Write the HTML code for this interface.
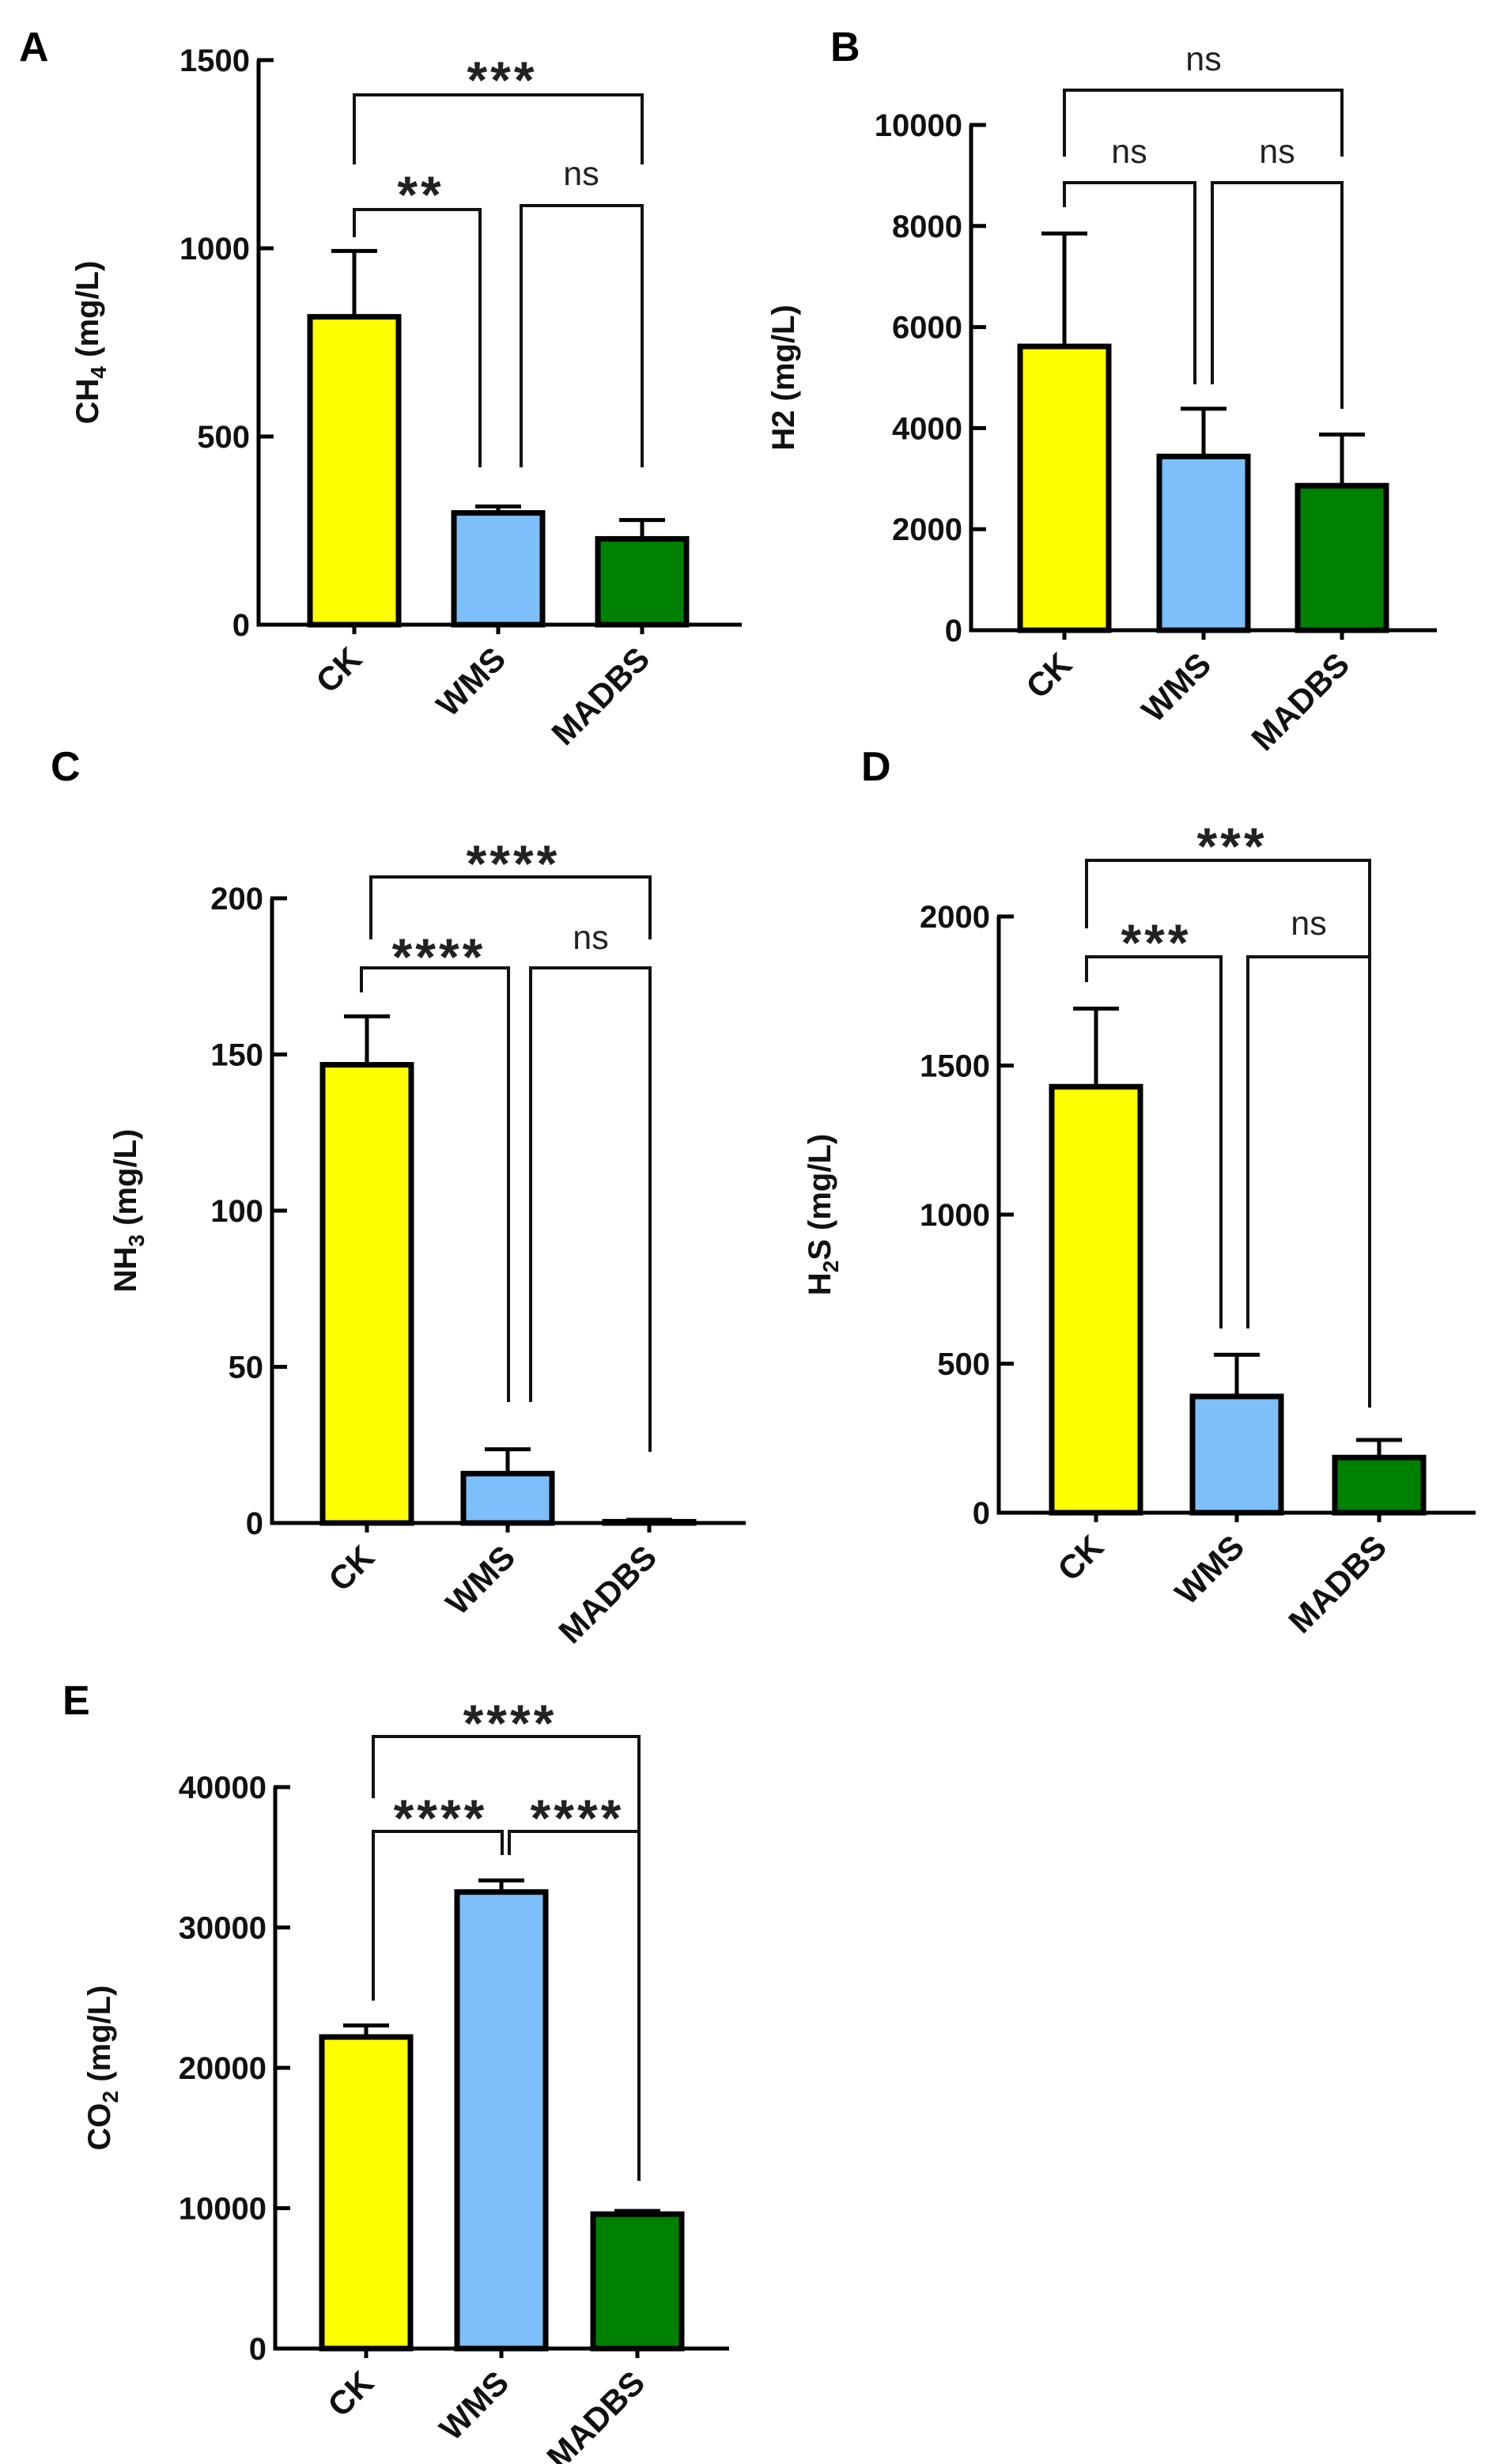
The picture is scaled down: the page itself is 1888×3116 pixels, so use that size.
<!DOCTYPE html>
<html><head><meta charset="utf-8"><style>
html,body{margin:0;padding:0;background:#fff;}
svg{display:block;}
text{font-family:"Liberation Sans",Arial,sans-serif;}
</style></head><body>
<svg id="fig" width="1888" height="3116" viewBox="0 0 1888 3116" xmlns="http://www.w3.org/2000/svg"></svg>
<script>
// ---- data ----
const categories = ["CK", "WMS", "MADBS"];
const barColors = ["#ffff00", "#7cbffa", "#008000"];
const ch4Means = [818, 297, 228];
const ch4Errors = [175, 17, 50];
const h2Means = [5617, 3439, 2861];
const h2Errors = [2235, 944, 1012];
const nh3Means = [146.7, 15.8, 0.4];
const nh3Errors = [15.5, 7.8, 0.6];
const h2sMeans = [1429, 390, 185];
const h2sErrors = [262, 140, 59];
const co2Means = [22197, 32526, 9577];
const co2Errors = [826, 826, 226];
const ch4Ticks = [0, 500, 1000, 1500];
const h2Ticks = [0, 2000, 4000, 6000, 8000, 10000];
const nh3Ticks = [0, 50, 100, 150, 200];
const h2sTicks = [0, 500, 1000, 1500, 2000];
const co2Ticks = [0, 10000, 20000, 30000, 40000];

const NS = "http://www.w3.org/2000/svg";
const svg = document.getElementById("fig");
function mk(tag, attrs, parent) {
  const e = document.createElementNS(NS, tag);
  for (const k in attrs) e.setAttribute(k, attrs[k]);
  (parent || svg).appendChild(e);
  return e;
}

const panels = [
  {id:"a", letter:"A", lx:24, ly:77, axisX:327, y0:790, yTop:76, max:1500, xEnd:938, centers:[448,630,812],
   means:ch4Means, errs:ch4Errors, ticks:ch4Ticks, ylab:["CH","4"," (mg/L)"], ylx:124,
   brackets:[
     {pts:[[448,208],[448,120],[812,120],[812,208]], label:"***", lxp:631, lyp:86},
     {pts:[[448,300],[448,265],[607,265],[607,591]], label:"**", lxp:528, lyp:231},
     {pts:[[659,591],[659,260],[812,260],[812,591]], label:"ns", lxp:735, lyp:222}]},
  {id:"b", letter:"B", lx:1050, ly:77, axisX:1228, y0:797, yTop:158, max:10000, xEnd:1817, centers:[1346,1522,1697],
   means:h2Means, errs:h2Errors, ticks:h2Ticks, ylab:["H2 (mg/L)"], ylx:1004,
   brackets:[
     {pts:[[1346,198],[1346,114],[1697,114],[1697,198]], label:"ns", lxp:1522, lyp:77},
     {pts:[[1346,262],[1346,231],[1511,231],[1511,486]], label:"ns", lxp:1428, lyp:194},
     {pts:[[1533,486],[1533,231],[1697,231],[1697,517]], label:"ns", lxp:1615, lyp:194}]},
  {id:"c", letter:"C", lx:64, ly:987, axisX:344, y0:1926, yTop:1136, max:200, xEnd:943, centers:[464,642,821],
   means:nh3Means, errs:nh3Errors, ticks:nh3Ticks, ylab:["NH","3"," (mg/L)"], ylx:172,
   brackets:[
     {pts:[[469,1188],[469,1109],[822,1109],[822,1188]], label:"****", lxp:645, lyp:1077},
     {pts:[[457,1255],[457,1224],[643,1224],[643,1773]], label:"****", lxp:551, lyp:1195},
     {pts:[[671,1773],[671,1224],[822,1224],[822,1836]], label:"ns", lxp:747, lyp:1188}]},
  {id:"d", letter:"D", lx:1089, ly:987, axisX:1263, y0:1913, yTop:1159, max:2000, xEnd:1866, centers:[1386,1564,1744],
   means:h2sMeans, errs:h2sErrors, ticks:h2sTicks, ylab:["H","2","S (mg/L)"], ylx:1050,
   brackets:[
     {pts:[[1374,1174],[1374,1088],[1732,1088],[1732,1780]], label:"***", lxp:1554, lyp:1055},
     {pts:[[1374,1242],[1374,1210],[1544,1210],[1544,1680]], label:"***", lxp:1458, lyp:1177},
     {pts:[[1578,1680],[1578,1210],[1732,1210]], label:"ns", lxp:1655, lyp:1170}]},
  {id:"e", letter:"E", lx:79, ly:2168, axisX:348, y0:2970, yTop:2260, max:40000, xEnd:922, centers:[463,634,806],
   means:co2Means, errs:co2Errors, ticks:co2Ticks, ylab:["CO","2"," (mg/L)"], ylx:139,
   brackets:[
     {pts:[[472,2274],[472,2196],[808,2196],[808,2758]], label:"****", lxp:641, lyp:2164},
     {pts:[[472,2530],[472,2316],[635,2316],[635,2346]], label:"****", lxp:553, lyp:2284},
     {pts:[[644,2346],[644,2316],[808,2316]], label:"****", lxp:726, lyp:2284}]}
];

panels.forEach(p => {
  const g = mk("g", {});
  
  
  const yScale = v => p.y0 - (v / p.max) * (p.y0 - p.yTop);

  const letter = mk("text", {x:p.lx, y:p.ly, "font-size":52, "font-weight":"bold", fill:"#000"}, g);
  letter.textContent = p.letter;
  
  

  p.means.forEach((m, i) => {
    const cx = p.centers[i];
    const top = yScale(m), eTop = yScale(m + p.errs[i]);
    const eb = mk("path", {d:`M${cx},${top} L${cx},${eTop} M${cx-29},${eTop} L${cx+29},${eTop}`, stroke:"#000", "stroke-width":5, fill:"none"}, g);
    
    
    const r = mk("rect", {x:cx-56, y:top, width:112, height:Math.max(0, p.y0 - top), fill:barColors[i], stroke:"#000", "stroke-width":7}, g);
    
    
  });

  const ax = mk("path", {d:`M${p.axisX},${p.yTop} L${p.axisX},${p.y0} L${p.xEnd},${p.y0}`, stroke:"#000", "stroke-width":5, fill:"none"}, g);
  
  
  p.ticks.forEach(t => {
    const y = yScale(t);
    const tk = mk("line", {x1:p.axisX-2, x2:p.axisX+19, y1:y, y2:y, stroke:"#000", "stroke-width":5}, g);
    
    
    const tl = mk("text", {x:p.axisX-11, y:y+14, "font-size":40, "font-weight":"bold", "text-anchor":"end", fill:"#111"}, g);
    tl.textContent = t;
    
    
  });
  categories.forEach((c, i) => {
    const cx = p.centers[i];
    const tk = mk("line", {x1:cx, x2:cx, y1:p.y0, y2:p.y0+12, stroke:"#000", "stroke-width":5}, g);
    
    
    const tx = cx + 12, ty = p.y0 + 46;
    const tl = mk("text", {x:tx, y:ty, "font-size":42, "font-weight":"bold", "text-anchor":"end", fill:"#111", transform:`rotate(-45 ${tx} ${ty})`}, g);
    tl.textContent = c;
    
    
  });

  const yc = (p.y0 + p.yTop) / 2;
  const yl = mk("text", {x:p.ylx, y:yc, "font-size":40, "font-weight":"bold", "text-anchor":"middle", fill:"#111", transform:`rotate(-90 ${p.ylx} ${yc})`}, g);
  
  
  if (p.ylab.length === 1) { yl.textContent = p.ylab[0]; }
  else {
    const a = mk("tspan", {}, yl); a.textContent = p.ylab[0];
    const s = mk("tspan", {dy:10, "font-size":28}, yl); s.textContent = p.ylab[1];
    const b = mk("tspan", {dy:-10}, yl); b.textContent = p.ylab[2];
  }

  p.brackets.forEach(br => {
    const d = br.pts.map((pt, k) => (k ? "L" : "M") + pt[0] + "," + pt[1]).join(" ");
    const pl = mk("path", {d:d, stroke:"#111", "stroke-width":4, fill:"none"}, g);
    
    
    let t;
    if (br.label === "ns") {
      t = mk("text", {x:br.lxp, y:br.lyp+12, "font-size":43, "text-anchor":"middle", fill:"#222"}, g);
    } else {
      t = mk("text", {x:br.lxp + 4, y:br.lyp+38, "font-size":66, "font-weight":"bold", "letter-spacing":4, "text-anchor":"middle", fill:"#222"}, g);
    }
    t.textContent = br.label;
    
    
  });
});
</script>
</body></html>
